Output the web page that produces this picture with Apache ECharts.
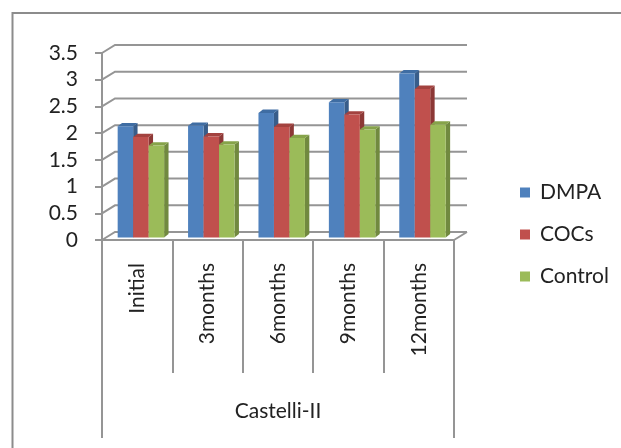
<!DOCTYPE html>
<html><head><meta charset="utf-8">
<script src="https://cdn.jsdelivr.net/npm/echarts@6/dist/echarts.min.js"></script>
<style>html,body{margin:0;padding:0;background:#fff}#c{width:621px;height:448px}</style>
</head><body><div id="c"></div>
<script>
// ---- data ----
const categories = ['Initial', '3months', '6months', '9months', '12months'];
const groupLabel = ['Castelli-II'];
const seriesNames = ['DMPA', 'COCs', 'Control'];
const dmpa = [2.08, 2.09, 2.33, 2.53, 3.07];
const cocs = [1.88, 1.89, 2.07, 2.30, 2.78];
const control = [1.72, 1.74, 1.86, 2.02, 2.11];
const yTicks = [0, 0.5, 1, 1.5, 2, 2.5, 3, 3.5];

// ---- styling ----
const FONT = 'Lato';
const FS = 21;
const TXT = '#222222';
const LINE = '#959595';
const FRONT = ['#4F81BD', '#C0504D', '#9BBB59'];
const SIDE = ['#385D8A', '#8C3836', '#71893F'];
const TOP = ['#3F6DA3', '#A3423F', '#86A34A'];
const WALL = { dx: 13, dy: -8 };     // back-wall offset
const BAR_SHIFT = { dx: 3.7, dy: -2.5 };
const BAR_DEPTH = { dx: 4.4, dy: -3.4 };
const BAR_FRAC = 0.22;

function barRender(k) {
  return function (params, api) {
    const i = api.value(0), v = api.value(1);
    const c = api.coord([i, v]);
    const b = api.coord([i, 0]);
    const bw = api.size([1, 0])[0];
    const w = bw * BAR_FRAC;
    const x0 = c[0] - 1.5 * w + k * w + BAR_SHIFT.dx;
    const x1 = x0 + w;
    const yt = c[1] + BAR_SHIFT.dy;
    const yb = b[1] + BAR_SHIFT.dy;
    const ddx = BAR_DEPTH.dx, ddy = BAR_DEPTH.dy;
    return {
      type: 'group',
      children: [
        { type: 'polygon', shape: { points: [[x1, yt], [x1 + ddx, yt + ddy], [x1 + ddx, yb + ddy], [x1, yb]] },
          style: { fill: SIDE[k] } },
        { type: 'polygon', shape: { points: [[x0, yt], [x0 + ddx, yt + ddy], [x1 + ddx, yt + ddy], [x1, yt]] },
          style: { fill: TOP[k] } },
        { type: 'rect', shape: { x: x0, y: yt, width: w, height: yb - yt },
          style: { fill: FRONT[k] } }
      ]
    };
  };
}

function frameRender(params, api) {
  const v = api.value(1);
  const bw = api.size([1, 0])[0];
  const pL = api.coord([0, v]);
  const pR = api.coord([categories.length - 1, v]);
  const xL = pL[0] - bw / 2, xR = pR[0] + bw / 2, y = pL[1];
  const children = [
    { type: 'polyline', shape: { points: [[xL, y], [xL + WALL.dx, y + WALL.dy], [xR + WALL.dx, y + WALL.dy]] },
      style: { stroke: LINE, lineWidth: 2, fill: null } }
  ];
  if (v === 0) {
    children.push({ type: 'line', shape: { x1: xR, y1: y, x2: xR + WALL.dx, y2: y + WALL.dy },
      style: { stroke: LINE, lineWidth: 2 } });
  }
  return { type: 'group', children };
}

const chart = echarts.init(document.getElementById('c'), null, { renderer: 'canvas' });
const seriesData = [dmpa, cocs, control];

chart.setOption({
  animation: false,
  backgroundColor: '#fff',
  textStyle: { fontFamily: FONT },
  graphic: [{
    type: 'rect', shape: { x: 12.5, y: 13, width: 700, height: 600 },
    style: { fill: null, stroke: '#8c8c8c', lineWidth: 2 }, silent: true
  }],
  legend: {
    orient: 'vertical', left: 520, top: 182, padding: 0,
    icon: 'rect', itemWidth: 10, itemHeight: 10, itemGap: 21,
    data: seriesNames,
    textStyle: { fontFamily: FONT, fontSize: FS, color: TXT, padding: [0, 0, 0, 5] }
  },
  grid: { left: 102, top: 53, width: 352, height: 187 },
  xAxis: [{
    type: 'category', data: categories, position: 'bottom',
    axisLine: { show: true, lineStyle: { color: LINE, width: 2 } },
    axisTick: { show: true, interval: 0, length: 133, lineStyle: { color: LINE, width: 2 } },
    axisLabel: { interval: 0, rotate: 90, margin: 23, fontFamily: FONT, fontSize: FS, color: TXT },
    splitLine: { show: false }
  }, {
    type: 'category', data: groupLabel, position: 'bottom', offset: 0,
    axisLine: { show: false },
    axisTick: { show: true, length: 198, lineStyle: { color: LINE, width: 2 } },
    axisLabel: { margin: 161, fontFamily: FONT, fontSize: FS, color: TXT },
    splitLine: { show: false }
  }],
  yAxis: {
    type: 'value', min: 0, max: 3.5, interval: 0.5,
    axisLine: { show: true, lineStyle: { color: LINE, width: 2 } },
    axisTick: { show: true, length: 7, lineStyle: { color: LINE, width: 2 } },
    axisLabel: { margin: 24, fontFamily: FONT, fontSize: FS, color: TXT },
    splitLine: { show: false }
  },
  series: [
    {
      type: 'custom', name: '_frame', silent: true, clip: false, z: 1,
      data: yTicks.map(v => [0, v]), renderItem: frameRender
    }
  ].concat(seriesNames.map((name, k) => ({
    type: 'custom', name: name, clip: false, z: 3,
    itemStyle: { color: FRONT[k] },
    data: seriesData[k].map((v, i) => [i, v]),
    renderItem: barRender(k)
  })))
});
</script>
</body></html>
